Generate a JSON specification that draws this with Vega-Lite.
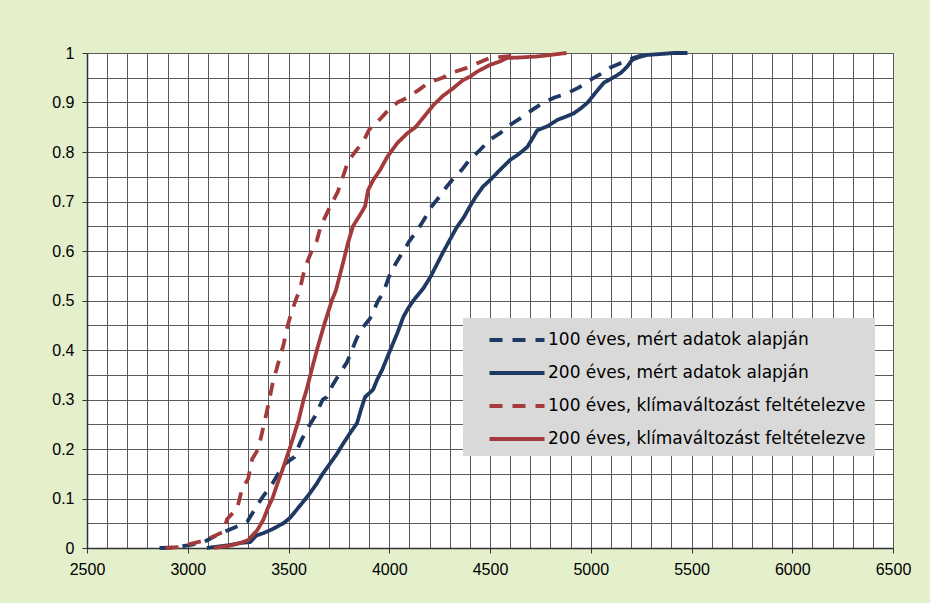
{
  "$schema": "https://vega.github.io/schema/vega-lite/v6.json",
  "width": 806,
  "height": 495,
  "autosize": {"type": "none"},
  "padding": {"left": 87, "top": 53, "right": 37, "bottom": 55},
  "background": "#E4EFCC",
  "config": {"view": {"stroke": null, "fill": "#FFFFFF"}},
  "data": {"values": [
    {"s":"a","x":2860,"y":0},{"s":"a","x":2930,"y":0.001},{"s":"a","x":3010,"y":0.006},{"s":"a","x":3080,"y":0.012},{"s":"a","x":3145,"y":0.026},{"s":"a","x":3200,"y":0.036},{"s":"a","x":3260,"y":0.046},{"s":"a","x":3295,"y":0.053},{"s":"a","x":3340,"y":0.083},{"s":"a","x":3375,"y":0.105},{"s":"a","x":3420,"y":0.13},{"s":"a","x":3475,"y":0.168},{"s":"a","x":3530,"y":0.184},{"s":"a","x":3560,"y":0.215},{"s":"a","x":3600,"y":0.245},{"s":"a","x":3630,"y":0.265},{"s":"a","x":3670,"y":0.3},{"s":"a","x":3690,"y":0.305},{"s":"a","x":3720,"y":0.33},{"s":"a","x":3755,"y":0.353},{"s":"a","x":3790,"y":0.375},{"s":"a","x":3815,"y":0.4},{"s":"a","x":3840,"y":0.425},{"s":"a","x":3870,"y":0.446},{"s":"a","x":3905,"y":0.464},{"s":"a","x":3945,"y":0.5},{"s":"a","x":3970,"y":0.515},{"s":"a","x":4005,"y":0.555},{"s":"a","x":4040,"y":0.58},{"s":"a","x":4070,"y":0.6},{"s":"a","x":4100,"y":0.62},{"s":"a","x":4140,"y":0.642},{"s":"a","x":4175,"y":0.665},{"s":"a","x":4210,"y":0.69},{"s":"a","x":4250,"y":0.71},{"s":"a","x":4285,"y":0.73},{"s":"a","x":4325,"y":0.75},{"s":"a","x":4360,"y":0.764},{"s":"a","x":4400,"y":0.785},{"s":"a","x":4450,"y":0.804},{"s":"a","x":4500,"y":0.825},{"s":"a","x":4550,"y":0.838},{"s":"a","x":4600,"y":0.855},{"s":"a","x":4650,"y":0.868},{"s":"a","x":4710,"y":0.885},{"s":"a","x":4765,"y":0.9},{"s":"a","x":4820,"y":0.91},{"s":"a","x":4880,"y":0.918},{"s":"a","x":4940,"y":0.93},{"s":"a","x":4995,"y":0.945},{"s":"a","x":5050,"y":0.958},{"s":"a","x":5095,"y":0.97},{"s":"a","x":5150,"y":0.98},{"s":"a","x":5210,"y":0.99},{"s":"a","x":5250,"y":0.995},{"s":"a","x":5300,"y":1},
    {"s":"b","x":3095,"y":0},{"s":"b","x":3150,"y":0.003},{"s":"b","x":3210,"y":0.006},{"s":"b","x":3260,"y":0.01},{"s":"b","x":3310,"y":0.012},{"s":"b","x":3340,"y":0.025},{"s":"b","x":3375,"y":0.03},{"s":"b","x":3420,"y":0.038},{"s":"b","x":3475,"y":0.05},{"s":"b","x":3510,"y":0.062},{"s":"b","x":3540,"y":0.077},{"s":"b","x":3570,"y":0.092},{"s":"b","x":3605,"y":0.11},{"s":"b","x":3640,"y":0.13},{"s":"b","x":3670,"y":0.15},{"s":"b","x":3705,"y":0.17},{"s":"b","x":3740,"y":0.19},{"s":"b","x":3770,"y":0.21},{"s":"b","x":3805,"y":0.232},{"s":"b","x":3840,"y":0.252},{"s":"b","x":3860,"y":0.28},{"s":"b","x":3880,"y":0.305},{"s":"b","x":3920,"y":0.32},{"s":"b","x":3940,"y":0.34},{"s":"b","x":3965,"y":0.36},{"s":"b","x":4005,"y":0.4},{"s":"b","x":4040,"y":0.434},{"s":"b","x":4070,"y":0.467},{"s":"b","x":4095,"y":0.485},{"s":"b","x":4120,"y":0.5},{"s":"b","x":4170,"y":0.525},{"s":"b","x":4205,"y":0.548},{"s":"b","x":4235,"y":0.572},{"s":"b","x":4265,"y":0.596},{"s":"b","x":4300,"y":0.622},{"s":"b","x":4335,"y":0.648},{"s":"b","x":4370,"y":0.668},{"s":"b","x":4400,"y":0.69},{"s":"b","x":4430,"y":0.71},{"s":"b","x":4465,"y":0.73},{"s":"b","x":4500,"y":0.743},{"s":"b","x":4550,"y":0.764},{"s":"b","x":4600,"y":0.784},{"s":"b","x":4640,"y":0.795},{"s":"b","x":4685,"y":0.81},{"s":"b","x":4735,"y":0.844},{"s":"b","x":4785,"y":0.852},{"s":"b","x":4835,"y":0.865},{"s":"b","x":4880,"y":0.872},{"s":"b","x":4915,"y":0.878},{"s":"b","x":4950,"y":0.888},{"s":"b","x":4985,"y":0.9},{"s":"b","x":5020,"y":0.918},{"s":"b","x":5065,"y":0.94},{"s":"b","x":5110,"y":0.95},{"s":"b","x":5150,"y":0.96},{"s":"b","x":5180,"y":0.972},{"s":"b","x":5205,"y":0.986},{"s":"b","x":5240,"y":0.992},{"s":"b","x":5280,"y":0.996},{"s":"b","x":5350,"y":0.998},{"s":"b","x":5410,"y":1},{"s":"b","x":5480,"y":1},
    {"s":"c","x":2890,"y":0},{"s":"c","x":2960,"y":0.002},{"s":"c","x":3010,"y":0.008},{"s":"c","x":3050,"y":0.012},{"s":"c","x":3085,"y":0.015},{"s":"c","x":3135,"y":0.025},{"s":"c","x":3175,"y":0.032},{"s":"c","x":3195,"y":0.058},{"s":"c","x":3245,"y":0.08},{"s":"c","x":3270,"y":0.12},{"s":"c","x":3300,"y":0.14},{"s":"c","x":3320,"y":0.18},{"s":"c","x":3350,"y":0.2},{"s":"c","x":3370,"y":0.235},{"s":"c","x":3395,"y":0.28},{"s":"c","x":3410,"y":0.31},{"s":"c","x":3425,"y":0.34},{"s":"c","x":3440,"y":0.36},{"s":"c","x":3460,"y":0.39},{"s":"c","x":3475,"y":0.41},{"s":"c","x":3490,"y":0.44},{"s":"c","x":3510,"y":0.47},{"s":"c","x":3535,"y":0.5},{"s":"c","x":3555,"y":0.52},{"s":"c","x":3575,"y":0.555},{"s":"c","x":3595,"y":0.58},{"s":"c","x":3620,"y":0.605},{"s":"c","x":3640,"y":0.62},{"s":"c","x":3660,"y":0.65},{"s":"c","x":3695,"y":0.68},{"s":"c","x":3720,"y":0.7},{"s":"c","x":3745,"y":0.72},{"s":"c","x":3770,"y":0.75},{"s":"c","x":3795,"y":0.78},{"s":"c","x":3830,"y":0.8},{"s":"c","x":3870,"y":0.82},{"s":"c","x":3900,"y":0.845},{"s":"c","x":3940,"y":0.86},{"s":"c","x":3985,"y":0.88},{"s":"c","x":4040,"y":0.9},{"s":"c","x":4090,"y":0.91},{"s":"c","x":4145,"y":0.925},{"s":"c","x":4195,"y":0.94},{"s":"c","x":4265,"y":0.95},{"s":"c","x":4310,"y":0.96},{"s":"c","x":4385,"y":0.97},{"s":"c","x":4440,"y":0.98},{"s":"c","x":4500,"y":0.99},{"s":"c","x":4585,"y":0.993},{"s":"c","x":4650,"y":1},
    {"s":"d","x":3130,"y":0},{"s":"d","x":3160,"y":0.002},{"s":"d","x":3210,"y":0.005},{"s":"d","x":3260,"y":0.01},{"s":"d","x":3300,"y":0.016},{"s":"d","x":3345,"y":0.036},{"s":"d","x":3375,"y":0.057},{"s":"d","x":3400,"y":0.083},{"s":"d","x":3420,"y":0.1},{"s":"d","x":3445,"y":0.13},{"s":"d","x":3470,"y":0.158},{"s":"d","x":3510,"y":0.206},{"s":"d","x":3550,"y":0.258},{"s":"d","x":3575,"y":0.3},{"s":"d","x":3590,"y":0.32},{"s":"d","x":3615,"y":0.36},{"s":"d","x":3645,"y":0.406},{"s":"d","x":3680,"y":0.455},{"s":"d","x":3715,"y":0.5},{"s":"d","x":3735,"y":0.52},{"s":"d","x":3770,"y":0.575},{"s":"d","x":3795,"y":0.616},{"s":"d","x":3820,"y":0.65},{"s":"d","x":3855,"y":0.673},{"s":"d","x":3880,"y":0.69},{"s":"d","x":3895,"y":0.723},{"s":"d","x":3920,"y":0.743},{"s":"d","x":3955,"y":0.764},{"s":"d","x":3990,"y":0.79},{"s":"d","x":4040,"y":0.818},{"s":"d","x":4090,"y":0.838},{"s":"d","x":4130,"y":0.85},{"s":"d","x":4170,"y":0.87},{"s":"d","x":4220,"y":0.895},{"s":"d","x":4265,"y":0.913},{"s":"d","x":4315,"y":0.928},{"s":"d","x":4365,"y":0.945},{"s":"d","x":4400,"y":0.952},{"s":"d","x":4435,"y":0.962},{"s":"d","x":4500,"y":0.976},{"s":"d","x":4550,"y":0.983},{"s":"d","x":4585,"y":0.99},{"s":"d","x":4650,"y":0.991},{"s":"d","x":4735,"y":0.993},{"s":"d","x":4800,"y":0.996},{"s":"d","x":4880,"y":1}
  ]},
  "mark": {"type": "line", "strokeWidth": 3.8, "strokeCap": "butt", "strokeJoin": "round"},
  "encoding": {
    "x": {
      "field": "x", "type": "quantitative",
      "scale": {"domain": [2500, 6500], "nice": false, "zero": false},
      "axis": {
        "title": null,
        "values": [2500,2600,2700,2800,2900,3000,3100,3200,3300,3400,3500,3600,3700,3800,3900,4000,4100,4200,4300,4400,4500,4600,4700,4800,4900,5000,5100,5200,5300,5400,5500,5600,5700,5800,5900,6000,6100,6200,6300,6400,6500],
        "format": "d",
        "labelExpr": "datum.value % 500 === 0 ? datum.label : ''",
        "labelOverlap": false, "labelFlush": false,
        "labelFont": "Liberation Sans", "labelFontSize": 16, "labelColor": "#000000", "labelPadding": 8,
        "tickSize": 5, "tickColor": "#333333",
        "tickOpacity": {"condition": {"test": "datum.value % 500 === 0", "value": 1}, "value": 0},
        "grid": true, "gridColor": "#5A5A5A", "gridWidth": 1, "gridOpacity": 1,
        "domain": true, "domainColor": "#333333", "domainWidth": 1.5
      }
    },
    "y": {
      "field": "y", "type": "quantitative",
      "scale": {"domain": [0, 1], "nice": false},
      "axis": {
        "title": null,
        "values": [0,0.05,0.1,0.15,0.2,0.25,0.3,0.35,0.4,0.45,0.5,0.55,0.6,0.65,0.7,0.75,0.8,0.85,0.9,0.95,1],
        "format": "~g",
        "labelExpr": "abs(datum.value*10 - round(datum.value*10)) < 0.001 ? datum.label : ''",
        "labelOverlap": false, "labelFlush": false,
        "labelFont": "Liberation Sans", "labelFontSize": 16, "labelColor": "#000000", "labelPadding": 8,
        "tickSize": 5, "tickColor": "#333333",
        "tickOpacity": {"condition": {"test": "abs(datum.value*10 - round(datum.value*10)) < 0.001", "value": 1}, "value": 0},
        "grid": true, "gridColor": "#5A5A5A", "gridWidth": 1, "gridOpacity": 1,
        "domain": true, "domainColor": "#333333", "domainWidth": 1.5
      }
    },
    "color": {
      "field": "s", "type": "nominal",
      "scale": {"domain": ["a","b","c","d"], "range": ["#1F3864","#1F3864","#A33A3B","#A33A3B"]},
      "legend": {
        "title": null,
        "orient": "none", "legendX": 376, "legendY": 265,
        "labelExpr": "(datum.value === 'a' ? '100 éves, mért adatok alapján' : datum.value === 'b' ? '200 éves, mért adatok alapján' : datum.value === 'c' ? '100 éves, klímaváltozást feltételezve' : '200 éves, klímaváltozást feltételezve') + '\u00a0\u00a0\u00a0'",
        "fillColor": "#D9D9D9", "padding": 9, "rowPadding": 12,
        "symbolType": "M-2.5,0H2.5", "symbolSize": 484, "symbolStrokeWidth": 4, "symbolOffset": 32,
        "labelFont": "DejaVu Sans", "labelFontSize": 17, "labelColor": "#000000", "labelOffset": 18, "labelLimit": 450
      }
    },
    "strokeDash": {
      "field": "s", "type": "nominal",
      "scale": {"domain": ["a","b","c","d"], "range": [[13,10],[1,0],[13,10],[1,0]]},
      "legend": null
    }
  }
}
